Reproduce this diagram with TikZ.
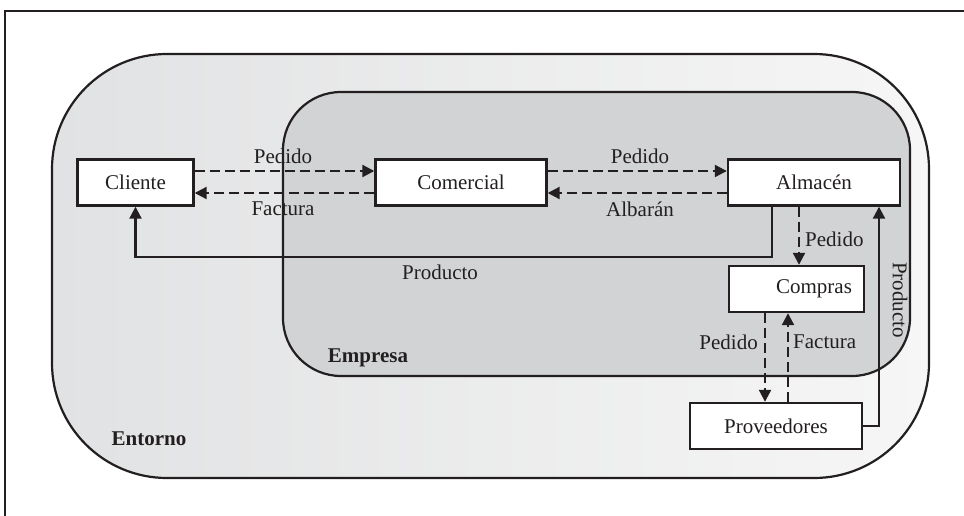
\documentclass[tikz,border=0pt]{standalone}
\usepackage{fontspec}
\setmainfont{Liberation Serif}
\usetikzlibrary{arrows.meta}
\definecolor{ink}{HTML}{231F20}
\definecolor{envleft}{HTML}{E1E2E3}
\definecolor{envright}{HTML}{F6F6F6}
\definecolor{firm}{HTML}{D1D3D4}
\begin{document}
\begin{tikzpicture}[x=1pt,y=1pt,
  every node/.style={font=\fontsize{21}{25}\selectfont, text=ink},
  box/.style={draw=ink, line width=2.4pt, fill=white, inner sep=0pt,
    minimum height=46pt},
  flow/.style={draw=ink, line width=2.2pt, -{Triangle[length=12pt,width=12pt]}},
  doc/.style={flow, dash pattern=on 10pt off 5pt},
  region/.style={draw=ink, line width=2.2pt},
  lbl/.style={inner sep=0pt},
  zone/.style={lbl, font=\fontsize{21}{25}\selectfont\bfseries}]
\useasboundingbox (0,0) rectangle (964,-516);

% open frame
\draw[ink, line width=2.4pt] (5,-516) -- (5,-11) -- (964,-11);

% environment and company regions
\draw[region, rounded corners=115pt, left color=envleft, right color=envright]
  (52,-54) rectangle (929,-478);
\draw[region, rounded corners=58pt, fill=firm] (283,-92) rectangle (910,-376);

\node[zone] (entorno) at (149,-439) {Entorno};
\node[zone] (empresa) at (368,-358) {Empresa};

% actors
\node[box, minimum width=116pt] (cli) at (135.5,-182.5) {Cliente};
\node[box, minimum width=171pt] (com) at (461,-182.5) {Comercial};
\node[box, minimum width=172pt] (alm) at (814,-182.5) {Almacén};
\node[box, minimum width=135pt] (cmp) at (796.5,-289) {\hspace*{35pt}Compras};
\node[box, minimum width=172pt] (prv) at (776,-426) {Proveedores};

% documents between client, sales and warehouse
\draw[doc] ([yshift=11.5pt]cli.east) -- ([yshift=11.5pt]com.west);
\draw[doc] ([yshift=-10.5pt]com.west) -- ([yshift=-10.5pt]cli.east);
\draw[doc] ([yshift=11.5pt]com.east) -- ([yshift=11.5pt]alm.west);
\draw[doc] ([yshift=-10.5pt]alm.west) -- ([yshift=-10.5pt]com.east);

\node[lbl] (l1) at (283,-156) {Pedido};
\node[lbl] (l2) at (283,-209) {Factura};
\node[lbl] (l3) at (640,-156) {Pedido};
\node[lbl] (l4) at (640,-209) {Albarán};

% product to the client
\coordinate (pout) at ([xshift=-42pt]alm.south);
\draw[flow] (pout) -- ++(0,-50) -| (cli.south);
\node[lbl] (l5) at (440,-272) {Producto};

% warehouse orders to purchasing
\coordinate (ord) at ([xshift=-15pt]alm.south);
\draw[doc] (ord) -- (ord |- cmp.north);
\node[lbl, anchor=west] (l6) at (805,-239) {Pedido};

% purchasing and suppliers
\coordinate (pdown) at ([xshift=-31.5pt]cmp.south);
\draw[doc] (pdown) -- (pdown |- prv.north);
\coordinate (fsrc) at ([xshift=-8.5pt]cmp.south |- prv.north);
\draw[doc] (fsrc) -- ([xshift=-8.5pt]cmp.south);
\node[lbl, anchor=east] (l7) at (758,-342) {Pedido};
\node[lbl, anchor=west] (l8) at (793,-342) {Factura};

% product from suppliers to the warehouse
\coordinate (pin) at ([xshift=65pt]alm.south);
\draw[flow] (prv.east) -| (pin);
\node[lbl, rotate=-90] (l9) at (900,-300) {Producto};
\end{tikzpicture}
\end{document}
